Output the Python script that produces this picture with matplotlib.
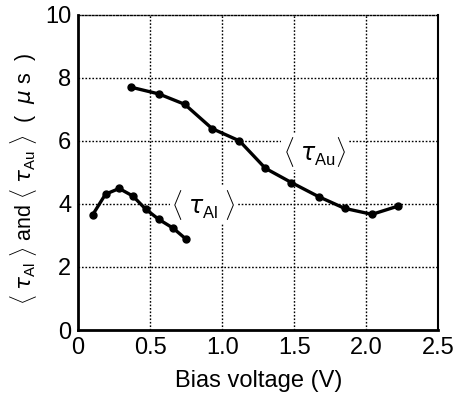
import matplotlib
matplotlib.use('Agg')
import matplotlib.pyplot as plt

# <tau_Al> vs bias
biasAl = [0.10, 0.19, 0.285, 0.38, 0.47, 0.56, 0.66, 0.75]
tauAl = [3.65, 4.31, 4.49, 4.25, 3.83, 3.51, 3.23, 2.88]

# <tau_Au> vs bias
biasAu = [0.37, 0.56, 0.74, 0.93, 1.12, 1.30, 1.48, 1.67, 1.85, 2.04, 2.22]
tauAu = [7.70, 7.49, 7.16, 6.39, 6.00, 5.13, 4.68, 4.23, 3.86, 3.67, 3.93]

xticks = [0, 0.5, 1.0, 1.5, 2.0, 2.5]
xtickLabels = ['0', '0.5', '1.0', '1.5', '2.0', '2.5']
yticks = [0, 2, 4, 6, 8, 10]

plt.rcParams['font.family'] = ['Liberation Sans', 'DejaVu Sans']
plt.rcParams['mathtext.fontset'] = 'custom'
plt.rcParams['mathtext.rm'] = 'Liberation Sans'
plt.rcParams['mathtext.it'] = 'DejaVu Sans:italic'

fig = plt.figure(figsize=(4.57, 4.11), dpi=100)
ax = fig.add_axes([0.171, 0.197, 0.788, 0.767])

ax.plot(biasAl, tauAl, color='black', lw=2.4, marker='o', ms=5, zorder=3)
ax.plot(biasAu, tauAu, color='black', lw=2.4, marker='o', ms=5, zorder=3)

ax.set_xlim(0, 2.5)
ax.set_ylim(0, 10)
ax.set_xticks(xticks)
ax.set_xticklabels(xtickLabels)
ax.set_yticks(yticks)
ax.tick_params(length=0, labelsize=17, pad=5)

for x in xticks[1:-1]:
    ax.axvline(x, color='black', lw=1, ls=(0, (1.2, 1.3)), zorder=1)
for y in yticks[1:-1]:
    ax.axhline(y, color='black', lw=1, ls=(0, (1.2, 1.3)), zorder=1)

for side in ['left', 'bottom']:
    ax.spines[side].set_linewidth(2)
ax.spines['right'].set_linewidth(1.5)
ax.spines['top'].set_linewidth(1)
ax.spines['top'].set_linestyle((0, (1.2, 1.3)))

ax.text(0.87, 3.97, r'$\langle\;\tau_{\mathrm{Al}}\;\rangle$', fontsize=17,
        ha='center', va='center', zorder=2,
        bbox=dict(facecolor='white', edgecolor='none', pad=1))
ax.text(1.64, 5.66, r'$\langle\;\tau_{\mathrm{Au}}\rangle$', fontsize=17,
        ha='center', va='center', zorder=2,
        bbox=dict(facecolor='white', edgecolor='none', pad=1))

ax.set_xlabel('Bias voltage (V)', fontsize=17, labelpad=8)
ax.set_ylabel(r'$\langle\;\tau_{\mathrm{Al}}\;\rangle$ and $\langle\;\tau_{\mathrm{Au}}\;\rangle$  (  $\mu$ s  )',
              fontsize=15.5)
ax.yaxis.set_label_coords(-0.11, 0.48)

fig.savefig('out.png', dpi=100)
